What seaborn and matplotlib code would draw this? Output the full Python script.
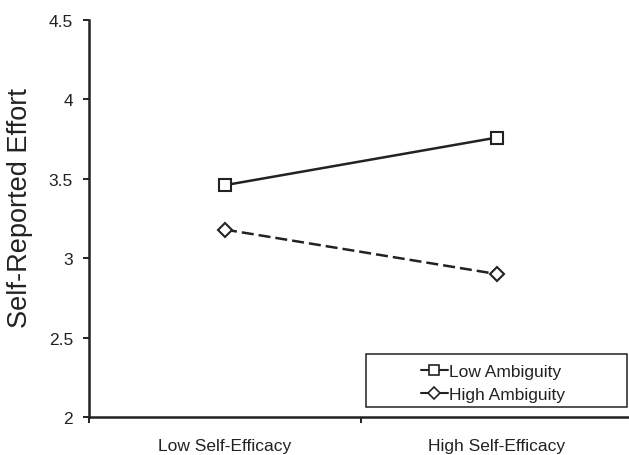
import matplotlib
matplotlib.use("Agg")
import matplotlib.pyplot as plt
from matplotlib.lines import Line2D
from matplotlib.patches import Rectangle
import pandas as pd
import seaborn as sns

# Mean self-reported effort by self-efficacy and ambiguity condition
efficacy = ["Low Self-Efficacy", "High Self-Efficacy"]
low_ambiguity = [3.46, 3.76]
high_ambiguity = [3.18, 2.90]
series_names = ["Low Ambiguity", "High Ambiguity"]
y_ticks = [2, 2.5, 3, 3.5, 4, 4.5]
y_tick_labels = ["2", "2.5", "3", "3.5", "4", "4.5"]

df = pd.DataFrame({
    "Efficacy": efficacy * 2,
    "Effort": low_ambiguity + high_ambiguity,
    "Ambiguity": [series_names[0]] * 2 + [series_names[1]] * 2,
})
df["x"] = df["Efficacy"].map({name: i for i, name in enumerate(efficacy)})

sns.set_style("ticks")
plt.rcParams["font.family"] = ["Liberation Sans", "DejaVu Sans"]

ink = "#222222"
fig = plt.figure(figsize=(6.29, 4.56), dpi=100)
ax = fig.add_axes([89 / 629, 38 / 456, 540 / 629, 397 / 456])

sns.lineplot(
    data=df, x="x", y="Effort", style="Ambiguity",
    markers={series_names[0]: "s", series_names[1]: "D"},
    dashes={series_names[0]: "", series_names[1]: (4.8, 2.0)},
    color=ink, linewidth=1.8, markersize=9, markerfacecolor="white",
    markeredgecolor=ink, markeredgewidth=1.5, legend=False, ax=ax,
)
# the diamond sits a little smaller than the square
for line in ax.lines:
    if line.get_marker() == "D":
        line.set_markersize(7.5)

ax.set_xlim(-0.5, 1.485)
ax.set_ylim(2, 4.5)
ax.set_yticks(y_ticks)
ax.set_yticklabels(y_tick_labels, fontsize=12.5, color=ink)
ax.set_xticks(range(len(efficacy)))
ax.set_xticklabels(efficacy, fontsize=12.5, color=ink)
ax.set_xticks([-0.5, 0.5], minor=True)
ax.tick_params(axis="x", which="major", length=0, pad=15)
ax.tick_params(axis="x", which="minor", length=4.5, width=1.4, color=ink, direction="out")
ax.tick_params(axis="y", length=4.5, width=1.4, color=ink, direction="out", pad=7)
ax.set_xlabel("")
ax.set_ylabel("Self-Reported Effort", fontsize=19.5, color=ink)
ax.yaxis.set_label_coords(-0.103, 0.53)

for side in ["top", "right"]:
    ax.spines[side].set_visible(False)
for side in ["left", "bottom"]:
    ax.spines[side].set_color(ink)
    ax.spines[side].set_linewidth(1.8)

# legend box spanning the lower right corner
box = Rectangle((0.513, 0.025), 0.483, 0.134, transform=ax.transAxes,
                facecolor="white", edgecolor=ink, linewidth=1.1, zorder=5)
ax.add_patch(box)
handles = [
    Line2D([], [], color=ink, linewidth=1.5, marker="s", markersize=7,
           markerfacecolor="white", markeredgecolor=ink, markeredgewidth=1.2),
    Line2D([], [], color=ink, linewidth=1.5, marker="D", markersize=6,
           markerfacecolor="white", markeredgecolor=ink, markeredgewidth=1.2),
]
leg = ax.legend(handles, series_names, loc="center",
                bbox_to_anchor=(0.748, 0.085),
                frameon=False, fontsize=12.5, handlelength=1.55, handletextpad=0.1,
                labelspacing=0.45, borderpad=0)
leg.set_zorder(6)
for t in leg.get_texts():
    t.set_color(ink)

fig.savefig("out.png", dpi=100)
